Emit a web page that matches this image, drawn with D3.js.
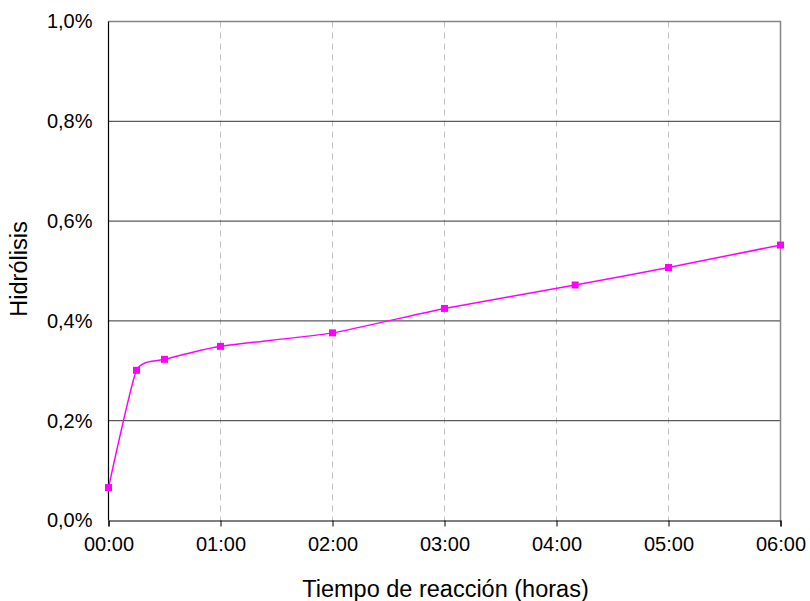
<!DOCTYPE html>
<html>
<head>
<meta charset="utf-8">
<script src="https://cdn.jsdelivr.net/npm/d3@7/dist/d3.min.js"></script>
<style>
  html, body { margin: 0; padding: 0; background: #fff; }
  svg { display: block; font-family: "Liberation Sans", Arial, sans-serif; }
</style>
</head>
<body>
<svg id="chart" width="810" height="601"></svg>
<script>
// Data
const times = ["00:00", "00:15", "00:30", "01:00", "02:00", "03:00", "04:10", "05:00", "06:00"];
const hydrolysis = [0.066, 0.301, 0.323, 0.349, 0.376, 0.425, 0.472, 0.507, 0.552]; // percent
const xTickLabels = ["00:00", "01:00", "02:00", "03:00", "04:00", "05:00", "06:00"];
const yTickValues = [0, 0.2, 0.4, 0.6, 0.8, 1.0];
const xTitle = "Tiempo de reacción (horas)";
const yTitle = "Hidrólisis";

const toHours = s => { const [h, m] = s.split(":").map(Number); return h + m / 60; };

const W = 810, H = 601;
const margin = { left: 108.5, right: 29.5, top: 21.5, bottom: 80.5 };
const svg = d3.select("#chart");

const x = d3.scaleLinear().domain([0, 6]).range([margin.left, W - margin.right]);
const y = d3.scaleLinear().domain([0, 1.0]).range([H - margin.bottom, margin.top]);

const points = times.map((t, i) => ({ h: toHours(t), v: hydrolysis[i] }));

// vertical dashed gridlines
svg.append("g").selectAll("line")
  .data(xTickLabels.map(toHours).filter(h => h > 0 && h < 6))
  .join("line")
  .attr("x1", d => x(d)).attr("x2", d => x(d))
  .attr("y1", margin.top).attr("y2", H - margin.bottom)
  .attr("stroke", "#c0c0c0").attr("stroke-width", 1)
  .attr("stroke-dasharray", "6,5");

// horizontal gridlines
svg.append("g").selectAll("line")
  .data(yTickValues.filter(v => v > 0 && v < 1))
  .join("line")
  .attr("x1", margin.left).attr("x2", W - margin.right)
  .attr("y1", d => y(d)).attr("y2", d => y(d))
  .attr("stroke", "#333").attr("stroke-width", 1);

// plot border (top & right)
svg.append("path")
  .attr("d", `M${margin.left},${y(1)}H${x(6)}V${y(0)}`)
  .attr("fill", "none").attr("stroke", "#858585").attr("stroke-width", 1.5);

// axes
const yAxis = d3.axisLeft(y).tickValues(yTickValues)
  .tickFormat(d => d3.format(".1f")(d).replace(".", ",") + "%")
  .tickSize(6).tickPadding(10);
const gy = svg.append("g").attr("transform", `translate(${margin.left},0)`).call(yAxis);

const xAxis = d3.axisBottom(x).tickValues(xTickLabels.map(toHours))
  .tickFormat((d, i) => xTickLabels[i])
  .tickSize(6).tickPadding(10);
const gx = svg.append("g").attr("transform", `translate(0,${H - margin.bottom})`).call(xAxis);

[gx, gy].forEach(g => {
  g.select(".domain").attr("stroke", "#000").attr("stroke-width", 1.2);
  g.selectAll(".tick line").attr("stroke", "#000");
  g.selectAll("text").attr("font-size", "20px").attr("fill", "#000")
    .attr("font-family", "Liberation Sans, Arial, sans-serif");
});
gx.selectAll(".tick text").attr("dy", "0.71em");
gy.select(".domain").attr("d", `M0,${y(1)}V${y(0)}`);
gy.selectAll(".tick line").attr("x1", -6);

// the line (smoothed like the original)
const line = d3.line().x(d => x(d.h)).y(d => y(d.v)).curve(d3.curveCardinal.tension(0.5));
svg.append("path").datum(points)
  .attr("d", line)
  .attr("fill", "none").attr("stroke", "#ff00ff").attr("stroke-width", 1.5);

// markers
const ms = 7;
svg.append("g").selectAll("rect").data(points).join("rect")
  .attr("x", d => x(d.h) - ms / 2).attr("y", d => y(d.v) - ms / 2)
  .attr("width", ms).attr("height", ms)
  .attr("fill", "#ff00ff");

// axis titles
svg.append("text")
  .attr("x", (margin.left + W - margin.right) / 2 + 1).attr("y", 597)
  .attr("text-anchor", "middle").attr("font-size", "23.5px").attr("fill", "#000")
  .text(xTitle);

svg.append("text")
  .attr("transform", `translate(27,${(margin.top + H - margin.bottom) / 2 - 2}) rotate(-90)`)
  .attr("text-anchor", "middle").attr("font-size", "23.5px").attr("fill", "#000")
  .text(yTitle);
</script>
</body>
</html>
